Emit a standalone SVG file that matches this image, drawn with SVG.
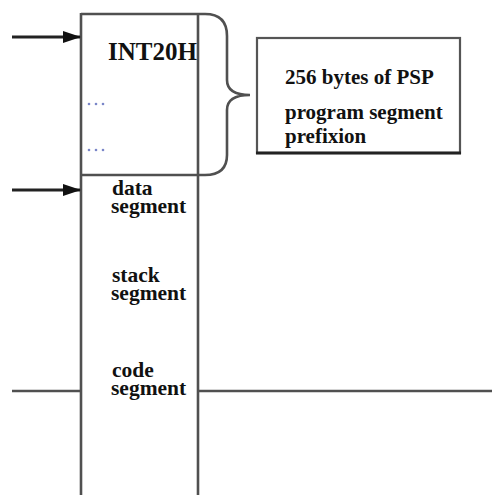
<svg xmlns="http://www.w3.org/2000/svg" width="492" height="495" viewBox="0 0 492 495">
  <defs>
    <style>
      .ln { stroke: #505050; stroke-width: 2.6; fill: none; }
      .arw { stroke: #222; stroke-width: 2.8; fill: none; }
      .lbl { font-family: "Liberation Serif", "Times New Roman", serif; font-weight: bold; fill: #111; }
      .seg { font-size: 21.5px; }
      .note { font-size: 21px; }
      .dot { fill: #7a86c8; }
    </style>
    <marker id="head" markerUnits="userSpaceOnUse" markerWidth="18" markerHeight="12" refX="17" refY="6" orient="auto">
      <path d="M0,0 L18,6 L0,12 Z" fill="#111"/>
    </marker>
  </defs>
  <rect width="492" height="495" fill="#fff"/>

  <!-- memory column -->
  <g id="column">
    <line class="ln" x1="81" y1="13" x2="81" y2="495"/>
    <line class="ln" x1="198" y1="13" x2="198" y2="495"/>
    <line class="ln" x1="81" y1="14" x2="198" y2="14"/>
    <line class="ln" x1="81" y1="175" x2="198" y2="175"/>
  </g>

  <!-- PSP block contents -->
  <g id="psp-area">
    <text class="lbl" x="108" y="60" font-size="25">INT20H</text>
    <circle class="dot" cx="89" cy="104" r="1.3"/>
    <circle class="dot" cx="96" cy="104" r="1.3"/>
    <circle class="dot" cx="103" cy="104" r="1.3"/>
    <circle class="dot" cx="89" cy="150" r="1.3"/>
    <circle class="dot" cx="96" cy="150" r="1.3"/>
    <circle class="dot" cx="103" cy="150" r="1.3"/>
  </g>

  <!-- segment labels -->
  <g id="data-segment">
    <text class="lbl seg" x="112" y="195">data</text>
    <text class="lbl seg" x="111" y="213">segment</text>
  </g>
  <g id="stack-segment">
    <text class="lbl seg" x="112" y="282">stack</text>
    <text class="lbl seg" x="111" y="300">segment</text>
  </g>
  <g id="code-segment">
    <text class="lbl seg" x="112" y="377">code</text>
    <text class="lbl seg" x="111" y="395">segment</text>
  </g>

  <!-- PSP description box -->
  <g id="psp-note">
    <rect x="257" y="38" width="203" height="115" fill="#fff" stroke="#555" stroke-width="2.2"/>
    <line x1="256" y1="153" x2="461" y2="153" stroke="#222" stroke-width="3.2"/>
    <text class="lbl note" x="285" y="84">256 bytes of PSP</text>
    <text class="lbl note" x="285" y="119">program segment</text>
    <text class="lbl note" x="285" y="143">prefixion</text>
  </g>

  <!-- connectors -->
  <g id="connectors">
    <path class="ln" d="M198,14 L205,14 Q227,14 227,36 L227,80 Q227,95 250,95 Q227,95 227,110 L227,155 Q227,175 205,175 L198,175"/>
    <line class="arw" x1="12" y1="37" x2="80" y2="37" marker-end="url(#head)"/>
    <line class="arw" x1="12" y1="190" x2="80" y2="190" marker-end="url(#head)"/>
    <line class="ln" x1="12" y1="391" x2="81" y2="391"/>
    <line class="ln" x1="198" y1="391" x2="492" y2="391"/>
  </g>
</svg>
